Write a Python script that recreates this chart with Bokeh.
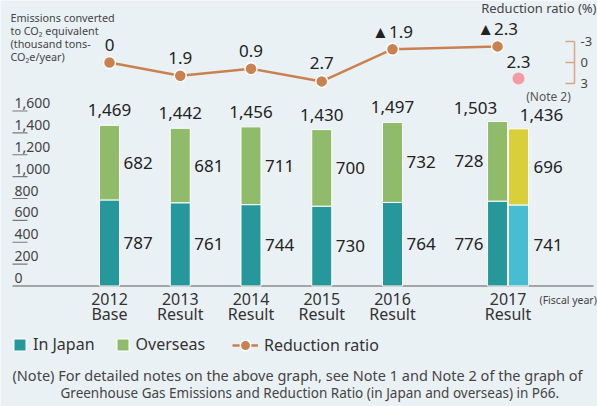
from bokeh.plotting import figure
from bokeh.models import Range1d, ColumnDataSource, Label, Legend, LegendItem
from bokeh.core.properties import value
from bokeh.embed import file_html
from bokeh.resources import INLINE

# ---------------- data ----------------
years = ["2012", "2013", "2014", "2015", "2016", "2017"]
year_sub = ["Base", "Result", "Result", "Result", "Result", "Result"]
in_japan = [787, 761, 744, 730, 764, 776]
overseas = [682, 681, 711, 700, 732, 728]
totals = [1469, 1442, 1456, 1430, 1497, 1503]
reduction = [0, 1.9, 0.9, 2.7, -1.9, -2.3]
note2_japan = [741]
note2_overseas = [696]
note2_total = [1436]
note2_reduction = [2.3]
y_ticks = [0, 200, 400, 600, 800, 1000, 1200, 1400, 1600]
ratio_ticks = [-3, 0, 3]

# ---------------- style / layout ----------------
FONT = "Noto Sans"
BG = "#EAF1F4"
TEAL = "#26979A"
GREEN = "#8FBB6A"
CYAN = "#46BDD0"
YELLOW = "#D9CF38"
LINE = "#C98150"
PINK = "#F29BA6"
BRACKET = "#D8A783"
TXT = "#222222"
W, H = 597, 406
OFF = 0                          # page offset of the figure
PX0, PXU = 109.0, 70.75          # page x of first category, px per category
GAP = 0.633                      # extra space before 2017
DODGE = 0.148
BAR_W = 0.283
BASE_Y, PY_PER_UNIT = 285.5, 175.0 / 1600.0
RATIO_Y0, RATIO_PX = 62.0, 7.0


def xd(px):
    return (px - PX0) / PXU


p = figure(width=W, height=H, output_backend="svg", toolbar_location=None,
           x_axis_type=None, y_axis_type=None,
           x_range=Range1d(xd(OFF), xd(OFF + W)),
           y_range=Range1d((BASE_Y - (OFF + H)) / PY_PER_UNIT, (BASE_Y - OFF) / PY_PER_UNIT),
           min_border=0, background_fill_color=BG, border_fill_color=BG,
           outline_line_color=None)
p.extra_y_ranges = {"ratio": Range1d(((OFF + H) - RATIO_Y0) / RATIO_PX, (OFF - RATIO_Y0) / RATIO_PX)}

n = len(years)
cat_x = [float(i) for i in range(n - 1)] + [n - 1 + GAP]
bar_x = cat_x[:-1] + [cat_x[-1] - DODGE]
n2_x = [cat_x[-1] + DODGE]

stack_top = [j + o for j, o in zip(in_japan, overseas)]
src = ColumnDataSource(dict(
    x=bar_x, japan=in_japan, top=stack_top,
    jmid=[j / 2 for j in in_japan],
    omid=[j + o / 2 for j, o in zip(in_japan, overseas)],
    jl=[str(v) for v in in_japan], ol=[str(v) for v in overseas],
    tl=[f"{v:,}" for v in totals]))
n2top = [j + o for j, o in zip(note2_japan, note2_overseas)]
src2 = ColumnDataSource(dict(
    x=n2_x, japan=note2_japan, top=n2top,
    jmid=[j / 2 for j in note2_japan],
    omid=[j + o / 2 for j, o in zip(note2_japan, note2_overseas)],
    jl=[str(v) for v in note2_japan], ol=[str(v) for v in note2_overseas],
    tl=[f"{v:,}" for v in note2_total]))

# baseline
p.segment(x0=[xd(12)], x1=[xd(593)], y0=[0], y1=[0], line_color="#8C8C8C", line_width=1.5)

# bars
r_jp = p.vbar(x="x", width=BAR_W, bottom=0, top="japan", source=src,
              fill_color=TEAL, line_color="white", line_width=1)
r_ov = p.vbar(x="x", width=BAR_W, bottom="japan", top="top", source=src,
              fill_color=GREEN, line_color="white", line_width=1)
p.vbar(x="x", width=BAR_W, bottom=0, top="japan", source=src2,
       fill_color=CYAN, line_color="white", line_width=1)
p.vbar(x="x", width=BAR_W, bottom="japan", top="top", source=src2,
       fill_color=YELLOW, line_color="white", line_width=1)

num = dict(text_font=value(FONT), text_font_size="17px", text_color=TXT, text_baseline="middle")

# labels for 2012-2016 (right of bar), 2017 (left of bar)
src_a = ColumnDataSource({k: v[:-1] for k, v in src.data.items()})
src_b = ColumnDataSource({k: v[-1:] for k, v in src.data.items()})
p.text(x="x", y="jmid", text="jl", source=src_a, x_offset=14, text_align="left", **num)
p.text(x="x", y="omid", text="ol", source=src_a, x_offset=14, text_align="left", **num)
p.text(x="x", y="top", text="tl", source=src_a, y_offset=-15, text_align="center", **num)
p.text(x="x", y="jmid", text="jl", source=src_b, x_offset=-14, text_align="right", **num)
p.text(x="x", y="omid", text="ol", source=src_b, x_offset=-14, text_align="right", **num)
p.text(x="x", y="top", text="tl", source=src_b, x_offset=-22, y_offset=-14, text_align="center", **num)
p.text(x="x", y="jmid", text="jl", source=src2, x_offset=15, text_align="left", **num)
p.text(x="x", y="omid", text="ol", source=src2, x_offset=15, text_align="left", **num)
p.text(x="x", y="top", text="tl", source=src2, x_offset=23, y_offset=-14, text_align="center", **num)
p.text(x=n2_x, y=n2top, text=["(Note 2)"], x_offset=30, y_offset=-32, text_align="center",
       text_font=value(FONT), text_font_size="12px", text_color="#555555", text_baseline="middle")

# reduction ratio line
ratio_x = bar_x
r_line = p.line(x=ratio_x, y=reduction, y_range_name="ratio", line_color=LINE, line_width=2.5)
r_pts = p.scatter(x=ratio_x, y=reduction, y_range_name="ratio", marker="circle", size=12,
                  fill_color=LINE, line_color="white", line_width=1.5)
p.text(x=ratio_x, y=reduction, y_range_name="ratio",
       text=[("▲" + str(abs(v))) if v < 0 else str(v) for v in reduction],
       y_offset=-18, text_align="center", **num)
p.scatter(x=n2_x, y=note2_reduction, y_range_name="ratio", marker="circle", size=12,
          fill_color=PINK, line_color=None)
p.text(x=n2_x, y=note2_reduction, y_range_name="ratio", text=[str(v) for v in note2_reduction],
       y_offset=-17, text_align="center", **num)

# right bracket axis for reduction ratio
p.segment(x0=[xd(574)], x1=[xd(574)], y0=[ratio_ticks[0]], y1=[ratio_ticks[-1]],
          y_range_name="ratio", line_color=BRACKET, line_width=1.5)
p.segment(x0=[xd(565)] * len(ratio_ticks), x1=[xd(574)] * len(ratio_ticks),
          y0=ratio_ticks, y1=ratio_ticks, y_range_name="ratio", line_color=BRACKET, line_width=1.5)
p.text(x=[xd(580)] * len(ratio_ticks), y=ratio_ticks, text=[str(t) for t in ratio_ticks],
       y_range_name="ratio", text_align="left", text_baseline="middle",
       text_font=value(FONT), text_font_size="13px", text_color="#444444")

# left value axis (labels sit above short tick lines)
p.segment(x0=[xd(12)] * (len(y_ticks) - 1), x1=[xd(27)] * (len(y_ticks) - 1),
          y0=y_ticks[1:], y1=y_ticks[1:], line_color="#7A7A7A", line_width=1.2)
p.text(x=[xd(14)] * len(y_ticks), y=y_ticks, text=[f"{t:,}" for t in y_ticks],
       y_offset=-8, text_align="left", text_baseline="middle",
       text_font=value(FONT), text_font_size="14px", text_color="#444444")

# category labels
cat = dict(text_font=value(FONT), text_font_size="16px", text_color="#333333",
           text_align="center", text_baseline="middle")
p.text(x=cat_x, y=[0] * n, text=years, y_offset=13, **cat)
p.text(x=cat_x, y=[0] * n, text=year_sub, y_offset=28, **cat)


def note(px, py, text, size, color="#444444", align="left"):
    p.add_layout(Label(x=px - OFF, y=(OFF + H) - py, x_units="screen", y_units="screen",
                       text=text, text_font=FONT, text_font_size=f"{size}px",
                       text_color=color, text_align=align, text_baseline="middle"))


note(539, 299, "(Fiscal year)", 10.5)
note(10, 17, "Emissions converted", 10.8)
note(10, 30, "to CO₂ equivalent", 10.8)
note(10, 43, "(thousand tons-", 10.8)
note(10, 56, "CO₂e/year)", 10.8)
note(596, 7, "Reduction ratio (%)", 13, align="right")
note(12, 374, "(Note) For detailed notes on the above graph, see Note 1 and Note 2 of the graph of", 14.5)
note(60, 392, "Greenhouse Gas Emissions and Reduction Ratio (in Japan and overseas) in P66.", 13.5)

# legends
leg_common = dict(orientation="horizontal", label_standoff=6, spacing=20,
                  padding=0, margin=0, background_fill_alpha=0, border_line_alpha=0,
                  label_text_font=FONT, label_text_font_size="16px", label_text_color="#333333",
                  label_height=15)
leg1 = Legend(items=[LegendItem(label="In Japan", renderers=[r_jp]),
                     LegendItem(label="Overseas", renderers=[r_ov])],
              location=(12 - OFF, (OFF + H) - 355), glyph_width=15, glyph_height=15, **leg_common)
leg2 = Legend(items=[LegendItem(label="Reduction ratio", renderers=[r_line, r_pts])],
              location=(232 - OFF, (OFF + H) - 358.5), glyph_width=26, glyph_height=28, **leg_common)
p.add_layout(leg1)
p.add_layout(leg2)

html = file_html(p, INLINE)
html = html.replace("<body>", f'<body style="background:{BG};">', 1)
open("out.html", "w").write(html)
